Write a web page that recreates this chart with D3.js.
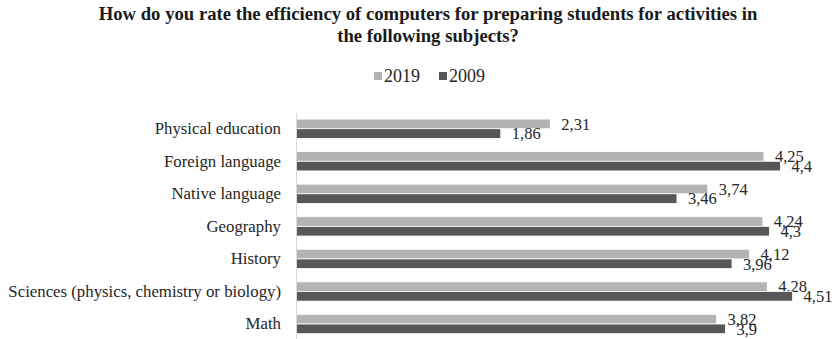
<!DOCTYPE html>
<html>
<head>
<meta charset="utf-8">
<script src="https://cdn.jsdelivr.net/npm/d3@7/dist/d3.min.js"></script>
<style>
  html, body { margin: 0; padding: 0; background: #ffffff; }
  svg { display: block; font-family: "Liberation Serif", "Times New Roman", serif; }
</style>
</head>
<body>
<svg id="chart" width="836" height="339"></svg>
<script>
// Subjects, top to bottom
const subjects = [
  "Physical education",
  "Foreign language",
  "Native language",
  "Geography",
  "History",
  "Sciences (physics, chemistry or biology)",
  "Math"
];
// Series names and their average ratings per subject
const seriesNames = ["2019", "2009"];
const values2019 = [2.31, 4.25, 3.74, 4.24, 4.12, 4.28, 3.82];
const values2009 = [1.86, 4.40, 3.46, 4.30, 3.96, 4.51, 3.90];
const seriesColors = ["#b3b3b3", "#575757"];
const titleLines = [
  "How do you rate the efficiency of computers for preparing students for activities in",
  "the following subjects?"
];

const series = [values2019, values2009];
const svg = d3.select("#chart");
const fmt = v => String(v).replace(".", ",");

// Scales
const x = d3.scaleLinear().domain([0, 5]).range([296, 846.5]);
const y = d3.scaleBand().domain(subjects).range([112.45, 340.3])
  .paddingInner(0.407).paddingOuter(0.2035);
const ySub = d3.scaleBand().domain(seriesNames).range([0, y.bandwidth()]);

// Title
svg.append("g").selectAll("text").data(titleLines).join("text")
  .attr("x", 428)
  .attr("y", (d, i) => 20 + i * 21.5)
  .attr("text-anchor", "middle")
  .attr("font-weight", "bold")
  .attr("font-size", 18.7)
  .attr("fill", "#1a1a1a")
  .text(d => d);

// Legend
const legend = svg.append("g");
const legendX = [374, 439];
seriesNames.forEach((name, i) => {
  const g = legend.append("g").attr("transform", `translate(${legendX[i]},0)`);
  g.append("rect").attr("x", 0).attr("y", 72).attr("width", 8).attr("height", 8)
    .attr("fill", seriesColors[i]);
  g.append("text").attr("x", 10).attr("y", 82).attr("font-size", 18)
    .attr("fill", "#262626").text(name);
});

// Bars
const groups = svg.append("g").selectAll("g").data(series).join("g")
  .attr("fill", (d, i) => seriesColors[i]);

groups.each(function (vals, si) {
  const g = d3.select(this);
  g.selectAll("rect").data(vals).join("rect")
    .attr("x", x(0))
    .attr("y", (d, i) => y(subjects[i]) + ySub(seriesNames[si]))
    .attr("width", d => x(d) - x(0))
    .attr("height", ySub.bandwidth())
    .attr("stroke", "#ffffff")
    .attr("stroke-width", 0.8);
  g.selectAll("text").data(vals).join("text")
    .attr("x", d => x(d) + 11)
    .attr("y", (d, i) => y(subjects[i]) + ySub(seriesNames[si]) + ySub.bandwidth() / 2)
    .attr("dy", "0.35em")
    .attr("font-size", 16.5)
    .attr("fill", "#262626")
    .text(d => fmt(d));
});

// Category axis
const axis = svg.append("g")
  .attr("transform", `translate(${x(0)},0)`)
  .call(d3.axisLeft(y).tickSize(0).tickSizeOuter(0).tickPadding(15));
axis.select(".domain").attr("stroke", "#d9d9d9").attr("stroke-width", 1);
axis.selectAll("text")
  .attr("font-family", "Liberation Serif, Times New Roman, serif")
  .attr("font-size", 16.8)
  .attr("fill", "#262626");
</script>
</body>
</html>
